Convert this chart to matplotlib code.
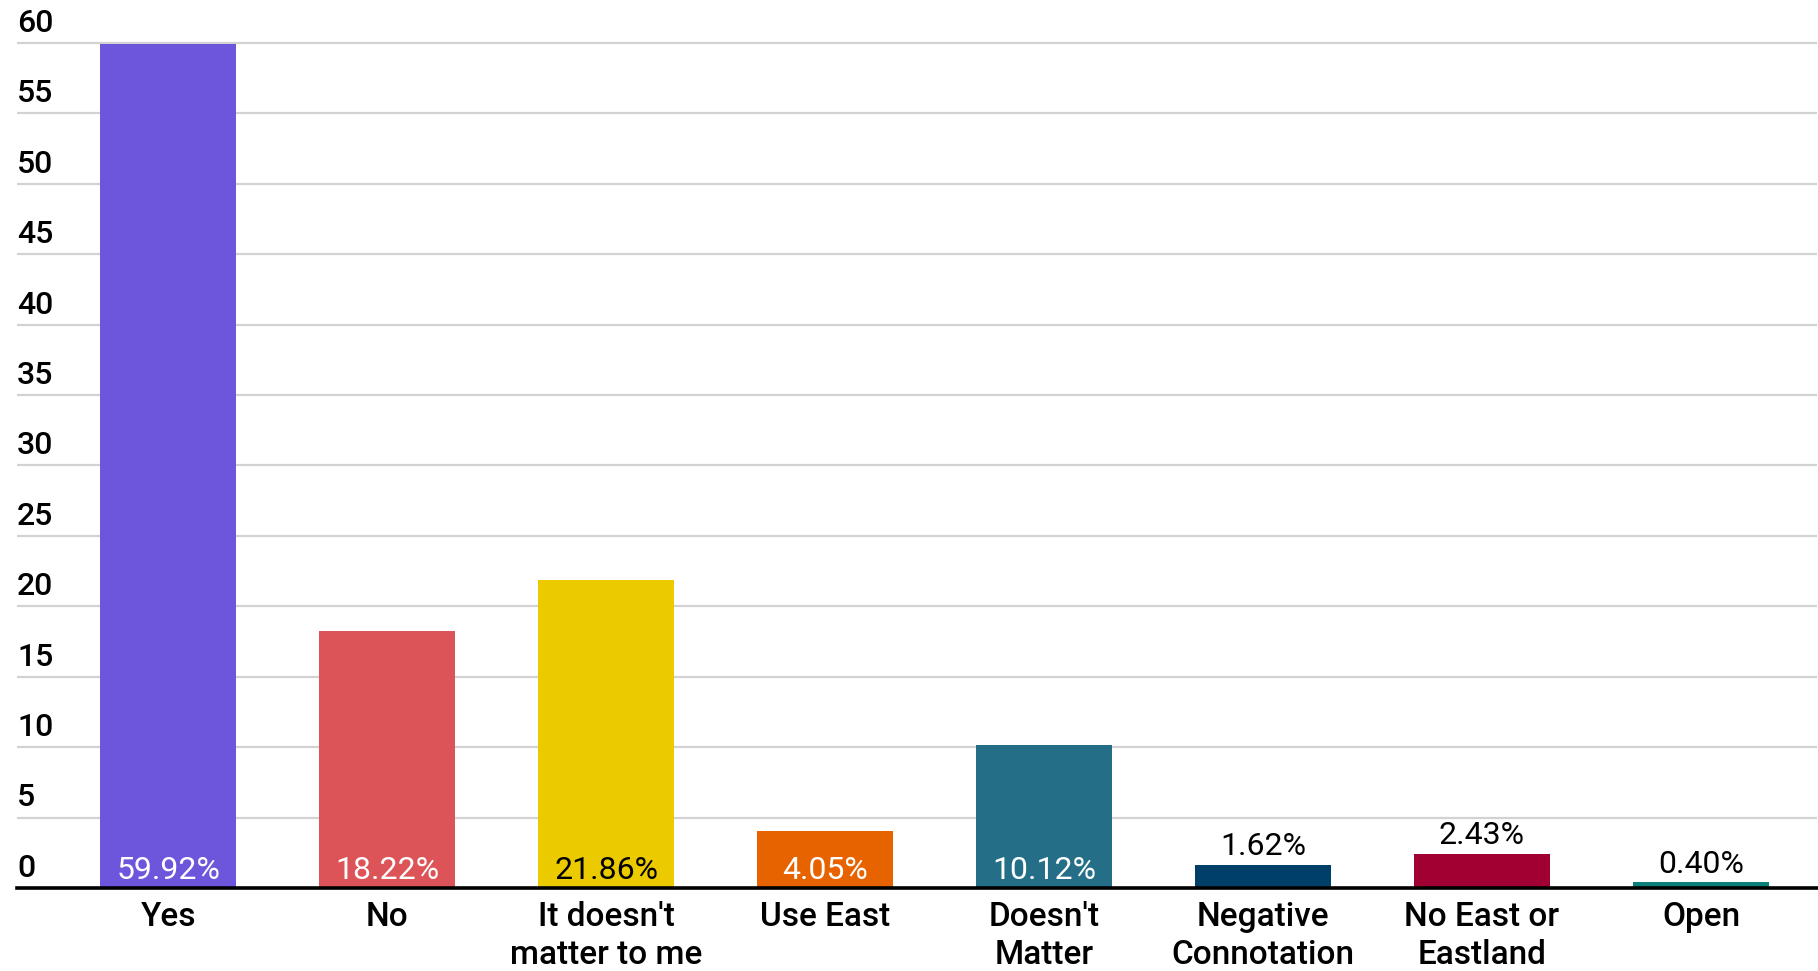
import matplotlib
matplotlib.use("Agg")
import matplotlib.pyplot as plt

categories = ["Yes", "No", "It doesn't\nmatter to me", "Use East", "Doesn't\nMatter",
              "Negative\nConnotation", "No East or\nEastland", "Open"]
values = [59.92, 18.22, 21.86, 4.05, 10.12, 1.62, 2.43, 0.40]
colors = ["#6d55dc", "#dc5457", "#ebca00", "#e66300", "#246f87",
          "#003f68", "#a10032", "#0b7f7a"]
label_inside = [True, True, True, True, True, False, False, False]
label_colors = ["white", "white", "black", "white", "white", "black", "black", "black"]
yticks = [0, 5, 10, 15, 20, 25, 30, 35, 40, 45, 50, 55, 60]

plt.rcParams["font.family"] = ["Roboto", "DejaVu Sans"]

W, H, DPI = 1818, 971, 100
fig = plt.figure(figsize=(W / DPI, H / DPI), dpi=DPI)
ax = fig.add_axes([17 / W, 1 - 888 / H, 1800 / W, 888 / H])

x = list(range(len(categories)))
ax.bar(x, values, width=0.62, color=colors, zorder=3)

ax.set_xlim(-0.69, 7.53)
ax.set_ylim(0, 63.05)

# grid lines
for v in yticks[1:]:
    ax.axhline(v, color="#d2d2d2", lw=1.6, zorder=1)
ax.axhline(0, color="black", lw=2.6, zorder=4, clip_on=False)

for s in ax.spines.values():
    s.set_visible(False)
ax.set_yticks([])
ax.set_xticks(x)
ax.set_xticklabels(categories, fontsize=24, fontweight="medium", linespacing=1.27)
ax.tick_params(axis="x", length=0, pad=9)

# y-axis labels sit above their grid lines
for v in yticks:
    ax.annotate(str(v), xy=(0, v), xycoords=("axes fraction", "data"),
                xytext=(0, 8), textcoords="offset points",
                ha="left", va="baseline", fontsize=23, fontweight="medium")

# value labels
for xi, v, inside, c in zip(x, values, label_inside, label_colors):
    if inside:
        ax.annotate(f"{v:.2f}%", xy=(xi, 0), xytext=(0, 6.5), textcoords="offset points",
                    ha="center", va="baseline", fontsize=23, color=c, zorder=5)
    else:
        ax.annotate(f"{v:.2f}%", xy=(xi, v), xytext=(0, 7), textcoords="offset points",
                    ha="center", va="baseline", fontsize=23, color=c, zorder=5)

fig.savefig("out.png", dpi=DPI)
